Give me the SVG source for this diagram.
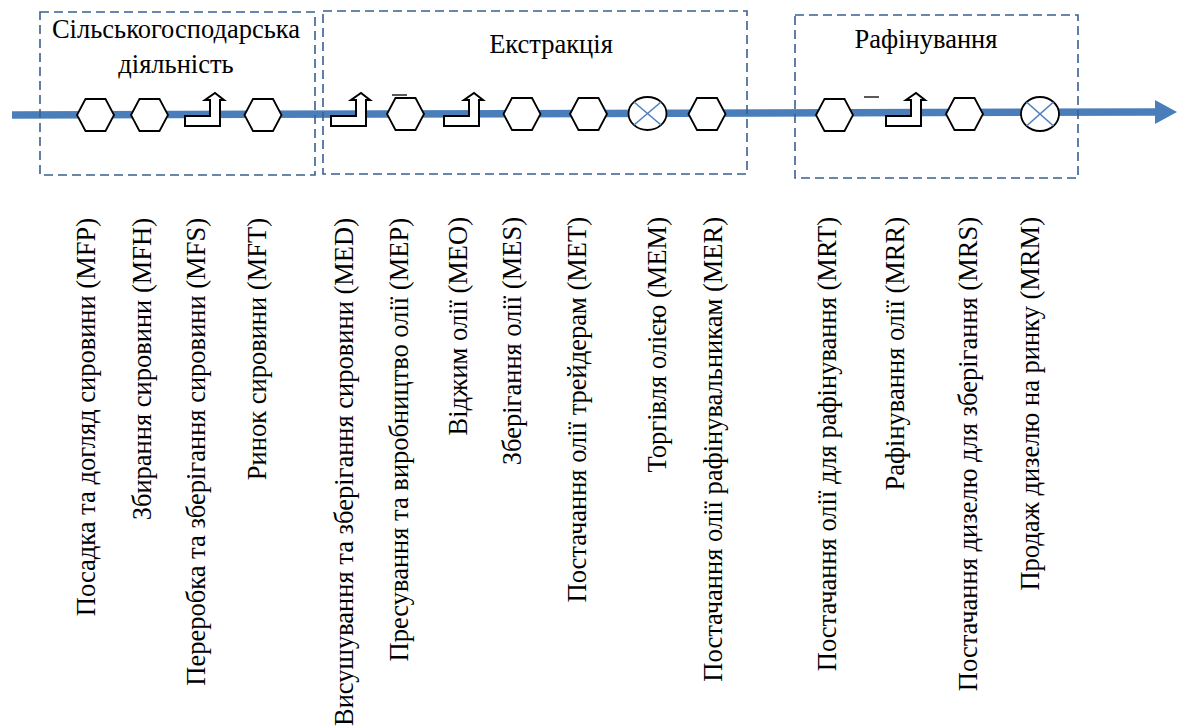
<svg xmlns="http://www.w3.org/2000/svg" width="1178" height="726" viewBox="0 0 1178 726">
<defs>
<style>
.box{fill:none;stroke:#3a5f8f;stroke-width:1.6;stroke-dasharray:9 5}
.hex{fill:#fff;stroke:#000;stroke-width:1.8}
.turn{fill:#fff;stroke:#000;stroke-width:2}
.circ{fill:#fff;stroke:#000;stroke-width:1.8}
.cross{stroke:#4f81bd;stroke-width:1.6}
.bar{stroke:#000;stroke-width:1.3}
.title{font-family:'Liberation Serif','Times New Roman',serif;font-size:26.5px;fill:#000;text-anchor:middle}
.lbl{font-family:'Liberation Serif','Times New Roman',serif;font-size:26.5px;fill:#000;text-anchor:end}
</style>
<polygon id="hexShape" points="-18.5,0 -10,-16 10,-16 18.5,0 10,16 -10,16"/>
<path id="turnShape" d="M0,33 L35,33 L35,7 L39,7 L30,0 L20,7 L25,7 L25,23 L0,23 Z"/>
</defs>
<g id="connectors">
<line x1="12" y1="115" x2="1158" y2="112" stroke="#4a7ebb" stroke-width="7.5"/>
<polygon points="1155,100 1177,112 1155,124" fill="#4a7ebb"/>
</g>
<g id="stage-agri">
<rect class="box" x="40" y="12" width="275" height="163"/>
<text class="title" x="176" y="38">Сільськогосподарська</text>
<text class="title" x="176" y="73">діяльність</text>
</g>
<g id="stage-extraction">
<rect class="box" x="323" y="11" width="424" height="163"/>
<text class="title" x="551" y="53">Екстракція</text>
</g>
<g id="stage-refining">
<rect class="box" x="795" y="15" width="283" height="163"/>
<text class="title" x="926" y="48">Рафінування</text>
</g>
<g id="MFP"><use href="#hexShape" class="hex" x="95.5" y="115"/></g>
<g id="MFH"><use href="#hexShape" class="hex" x="149.5" y="115"/></g>
<g id="MFS"><use href="#turnShape" class="turn" x="185" y="93"/></g>
<g id="MFT"><use href="#hexShape" class="hex" x="263" y="115"/></g>
<g id="MED"><use href="#turnShape" class="turn" x="331" y="93"/></g>
<g id="MEP"><use href="#hexShape" class="hex" x="405.5" y="114"/><line class="bar" x1="392" y1="95" x2="407" y2="95"/></g>
<g id="MEO"><use href="#turnShape" class="turn" x="444" y="93"/></g>
<g id="MES"><use href="#hexShape" class="hex" x="522" y="114"/></g>
<g id="MET"><use href="#hexShape" class="hex" x="588.5" y="114"/></g>
<g id="MEM"><ellipse class="circ" cx="647.5" cy="113.5" rx="19" ry="16.5"/><line class="cross" x1="634" y1="102" x2="661" y2="125"/><line class="cross" x1="661" y1="102" x2="634" y2="125"/></g>
<g id="MER"><use href="#hexShape" class="hex" x="707" y="114"/></g>
<g id="MRT"><use href="#hexShape" class="hex" x="834.5" y="115"/></g>
<g id="MRR"><line class="bar" x1="864" y1="97" x2="879" y2="97"/><use href="#turnShape" class="turn" x="886" y="93"/></g>
<g id="MRS"><use href="#hexShape" class="hex" x="964.5" y="114"/></g>
<g id="MRM"><ellipse class="circ" cx="1040" cy="114" rx="19" ry="17"/><line class="cross" x1="1026.5" y1="102" x2="1053.5" y2="126"/><line class="cross" x1="1053.5" y1="102" x2="1026.5" y2="126"/></g>
<g id="labels">
<text class="lbl" transform="translate(95,218) rotate(-90)">Посадка та догляд сировини (MFP)</text>
<text class="lbl" transform="translate(151,218) rotate(-90)">Збирання сировини (MFH)</text>
<text class="lbl" transform="translate(205,218) rotate(-90)">Переробка та зберігання сировини (MFS)</text>
<text class="lbl" transform="translate(266,218) rotate(-90)">Ринок сировини (MFT)</text>
<text class="lbl" transform="translate(353,218) rotate(-90)">Висушування та зберігання сировини (MED)</text>
<text class="lbl" transform="translate(408,218) rotate(-90)">Пресування та виробництво олії (MEP)</text>
<text class="lbl" transform="translate(467,217) rotate(-90)">Віджим олії (MEO)</text>
<text class="lbl" transform="translate(521,217) rotate(-90)">Зберігання олії (MES)</text>
<text class="lbl" transform="translate(586,217) rotate(-90)">Постачання олії трейдерам (MET)</text>
<text class="lbl" transform="translate(666,217) rotate(-90)">Торгівля олією (MEM)</text>
<text class="lbl" transform="translate(722,217) rotate(-90)">Постачання олії рафінувальникам (MER)</text>
<text class="lbl" transform="translate(836,217) rotate(-90)">Постачання олії для рафінування (MRT)</text>
<text class="lbl" transform="translate(904,217) rotate(-90)">Рафінування олії (MRR)</text>
<text class="lbl" transform="translate(977,217) rotate(-90)">Постачання дизелю для зберігання (MRS)</text>
<text class="lbl" transform="translate(1039,217) rotate(-90)">Продаж дизелю на ринку (MRM)</text>
</g>
</svg>
